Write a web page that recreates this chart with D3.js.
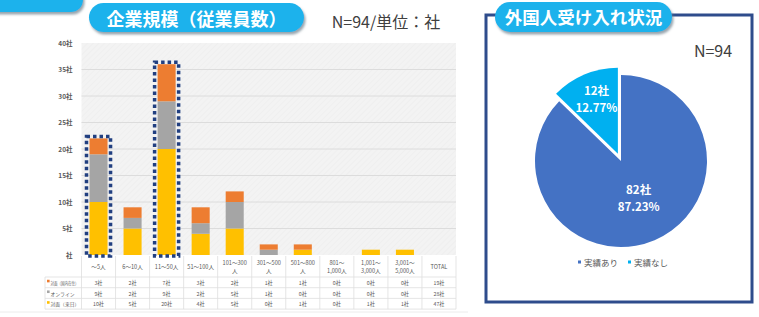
<!DOCTYPE html>
<meta charset='utf-8'>
<style>
body {
    margin: 0;
    background: #fff;
}
svg text {
    font-family: 'Noto Sans CJK JP', 'Noto Sans', sans-serif;
}
</style>
<body>
<div class='chart'></div>
<script src='https://d3js.org/d3.v7.min.js'></script>
<script>
// 企業規模（従業員数）
var categories = ['～5人', '6～10人', '11～50人', '51～100人', '101～300\n人', '301～500\n人',
    '501～800\n人', '801～\n1,000人', '1,001～\n3,000人', '3,001～\n5,000人'];
var seriesNames = ['対面（来日）', 'オンライン', '対面（国内在住）'];
var faceVisit = [10, 5, 20, 4, 5, 0, 1, 0, 1, 1];
var online = [9, 2, 9, 2, 5, 1, 0, 0, 0, 0];
var faceResident = [3, 2, 7, 3, 2, 1, 1, 0, 0, 0];
var yTicks = [0, 5, 10, 15, 20, 25, 30, 35, 40];
var highlighted = ['～5人', '11～50人'];

// 外国人受け入れ状況
var pieLabels = ['実績あり', '実績なし'];
var pieValues = [82, 12];

var barColors = ['#ffc000', '#a5a5a5', '#ed7d31'];
var pieColors = ['#4472c4', '#00b0f0'];
var cyan = '#1cb2ec';

var width = 759, height = 317;

var svg = d3.select('.chart').append('svg')
    .attr('width', width)
    .attr('height', height);

var defs = svg.append('defs');

defs.append('filter')
    .attr('id', 'shadow')
    .attr('x', '-10%').attr('y', '-20%')
    .attr('width', '120%').attr('height', '160%')
    .append('feDropShadow')
    .attr('dx', 1.5).attr('dy', 2.5)
    .attr('stdDeviation', 1.2)
    .attr('flood-color', '#6d7f8c')
    .attr('flood-opacity', 0.7);

var hatch = defs.append('pattern')
    .attr('id', 'hatch')
    .attr('patternUnits', 'userSpaceOnUse')
    .attr('width', 4).attr('height', 4)
    .attr('patternTransform', 'rotate(45)');
hatch.append('rect').attr('width', 4).attr('height', 4).attr('fill', '#f3f3f3');
hatch.append('line').attr('x1', 0).attr('y1', 0).attr('x2', 0).attr('y2', 4)
    .attr('stroke', '#ececec').attr('stroke-width', 1);

// ---------- 左：積み上げ棒グラフ ----------
var allCols = categories.concat(['TOTAL']);
var plotLeft = 81.5, plotRight = 456, plotTop = 43, plotBottom = 255;

var x = d3.scaleBand()
    .domain(allCols)
    .range([plotLeft, plotRight])
    .paddingInner(0.47)
    .paddingOuter(0.235);

var y = d3.scaleLinear()
    .domain([0, 40])
    .range([plotBottom, plotTop]);

// 左上の切れたピル
svg.append('rect')
    .attr('x', -20).attr('y', -20)
    .attr('width', 103).attr('height', 32)
    .attr('rx', 12)
    .attr('fill', cyan)
    .attr('filter', 'url(#shadow)');

// タイトル
svg.append('rect')
    .attr('x', 89).attr('y', 3)
    .attr('width', 215).attr('height', 29)
    .attr('rx', 14.5)
    .attr('fill', cyan)
    .attr('filter', 'url(#shadow)');
svg.append('text')
    .attr('x', 196.5).attr('y', 18)
    .attr('text-anchor', 'middle')
    .attr('dominant-baseline', 'central')
    .attr('fill', '#fff')
    .attr('font-size', 18)
    .attr('font-weight', 'bold')
    .text('企業規模（従業員数）');

svg.append('text')
    .attr('x', 386).attr('y', 21)
    .attr('text-anchor', 'middle')
    .attr('dominant-baseline', 'central')
    .attr('fill', '#404040')
    .attr('font-size', 16)
    .text('N=94/単位：社');

// プロット背景
svg.append('rect')
    .attr('x', plotLeft).attr('y', plotTop)
    .attr('width', plotRight - plotLeft).attr('height', plotBottom - plotTop)
    .attr('fill', 'url(#hatch)');

svg.append('g')
    .selectAll('line')
    .data(yTicks.slice(1, -1))
    .join('line')
    .attr('x1', plotLeft).attr('x2', plotRight)
    .attr('y1', d => y(d)).attr('y2', d => y(d))
    .attr('stroke', '#dcdcdc')
    .attr('stroke-width', 1);

// y軸ラベル
var yAxis = svg.append('g')
    .attr('transform', 'translate(' + (plotLeft - 6) + ',0)')
    .call(d3.axisLeft(y).tickValues(yTicks).tickSize(0)
        .tickFormat(d => d === 0 ? '社' : d + '社'));
yAxis.select('.domain').remove();
yAxis.selectAll('text')
    .attr('fill', '#595959')
    .attr('font-size', 6.5)
    .attr('font-weight', 'bold')
    .attr('font-family', "'Noto Sans CJK JP', sans-serif");

// 積み上げ
var rows = categories.map(function(c, i) {
    return { cat: c, '対面（来日）': faceVisit[i], 'オンライン': online[i], '対面（国内在住）': faceResident[i] };
});
var stack = d3.stack().keys(seriesNames)(rows);

svg.append('g')
    .selectAll('g')
    .data(stack)
    .join('g')
    .attr('fill', (d, i) => barColors[i])
    .selectAll('rect')
    .data(d => d)
    .join('rect')
    .attr('x', d => x(d.data.cat))
    .attr('width', x.bandwidth())
    .attr('y', d => y(d[1]))
    .attr('height', d => y(d[0]) - y(d[1]));

// 点線の強調枠
svg.append('g')
    .selectAll('rect')
    .data(rows.filter(d => highlighted.includes(d.cat)))
    .join('rect')
    .attr('x', d => x(d.cat) - 3)
    .attr('width', x.bandwidth() + 6)
    .attr('y', d => y(d['対面（来日）'] + d['オンライン'] + d['対面（国内在住）']) - 2)
    .attr('height', d => plotBottom + 1 - y(d['対面（来日）'] + d['オンライン'] + d['対面（国内在住）']) + 2)
    .attr('fill', 'none')
    .attr('stroke', '#213f80')
    .attr('stroke-width', 3.5)
    .attr('stroke-dasharray', '3.5 3');

// データテーブル
var tableLeft = 45, headTop = 256, headBottom = 277, rowH = 10.7;
var tableRows = [
    { name: seriesNames[2], color: barColors[2], values: faceResident },
    { name: seriesNames[1], color: barColors[1], values: online },
    { name: seriesNames[0], color: barColors[0], values: faceVisit }
];
var tableBottom = headBottom + rowH * tableRows.length;
var table = svg.append('g');
var lineColor = '#dedede';
var step = x.step();

allCols.forEach(function(c, i) {
    var cx = x(c) + x.bandwidth() / 2;
    table.append('line')
        .attr('x1', cx - step / 2).attr('x2', cx - step / 2)
        .attr('y1', headTop).attr('y2', tableBottom)
        .attr('stroke', lineColor).attr('stroke-width', 0.8);
    var lines = c.split('\n');
    lines.forEach(function(l, k) {
        table.append('text')
            .attr('x', cx)
            .attr('y', (headTop + headBottom) / 2 + (k - (lines.length - 1) / 2) * 8)
            .attr('text-anchor', 'middle')
            .attr('dominant-baseline', 'central')
            .attr('fill', '#595959')
            .attr('font-size', 5.6)
            .text(l);
    });
});
table.append('line')
    .attr('x1', plotRight).attr('x2', plotRight)
    .attr('y1', headTop).attr('y2', tableBottom)
    .attr('stroke', lineColor).attr('stroke-width', 0.8);
table.append('line')
    .attr('x1', tableLeft).attr('x2', tableLeft)
    .attr('y1', headBottom).attr('y2', tableBottom)
    .attr('stroke', lineColor).attr('stroke-width', 0.8);

d3.range(tableRows.length + 1).forEach(function(k) {
    table.append('line')
        .attr('x1', tableLeft).attr('x2', plotRight)
        .attr('y1', headBottom + k * rowH).attr('y2', headBottom + k * rowH)
        .attr('stroke', lineColor).attr('stroke-width', 0.8);
});

tableRows.forEach(function(r, k) {
    var cy = headBottom + rowH * (k + 0.5);
    table.append('rect')
        .attr('x', tableLeft + 2).attr('y', cy - 2.6)
        .attr('width', 2.6).attr('height', 2.6)
        .attr('fill', r.color);
    var label = table.append('text')
        .attr('x', tableLeft + 5.5).attr('y', cy)
        .attr('dominant-baseline', 'central')
        .attr('fill', '#595959')
        .attr('font-size', 4.8)
        .text(r.name);
    if (r.name.length > 6) {
        label.attr('textLength', 28).attr('lengthAdjust', 'spacingAndGlyphs');
    }
    var vals = r.values.concat([d3.sum(r.values)]);
    vals.forEach(function(v, i) {
        table.append('text')
            .attr('x', x(allCols[i]) + x.bandwidth() / 2).attr('y', cy)
            .attr('text-anchor', 'middle')
            .attr('dominant-baseline', 'central')
            .attr('fill', '#595959')
            .attr('font-size', 5.2)
            .text(v + '社');
    });
});

svg.append('line')
    .attr('x1', 0).attr('x2', 468)
    .attr('y1', 312).attr('y2', 312)
    .attr('stroke', '#ececec');

// ---------- 右：円グラフ ----------
svg.append('rect')
    .attr('x', 486).attr('y', 15)
    .attr('width', 266).attr('height', 287)
    .attr('fill', '#fff')
    .attr('stroke', '#2e4c8c')
    .attr('stroke-width', 3);

svg.append('rect')
    .attr('x', 495).attr('y', 2)
    .attr('width', 177).attr('height', 30)
    .attr('rx', 15)
    .attr('fill', cyan)
    .attr('filter', 'url(#shadow)');
svg.append('text')
    .attr('x', 583.5).attr('y', 16.5)
    .attr('text-anchor', 'middle')
    .attr('dominant-baseline', 'central')
    .attr('fill', '#fff')
    .attr('font-size', 17.5)
    .attr('font-weight', 'bold')
    .text('外国人受け入れ状況');

svg.append('text')
    .attr('x', 713).attr('y', 50)
    .attr('text-anchor', 'middle')
    .attr('dominant-baseline', 'central')
    .attr('fill', '#404040')
    .attr('font-size', 16)
    .text('N=94');

var total = d3.sum(pieValues);
var pcx = 621, pcy = 161, radius = 86, explode = 8;

var pie = d3.pie().sort(null)(pieValues);
var arc = d3.arc().innerRadius(0).outerRadius(radius);

var slices = svg.append('g')
    .attr('transform', 'translate(' + pcx + ',' + pcy + ')')
    .selectAll('g')
    .data(pie)
    .join('g')
    .attr('transform', function(d, i) {
        if (i === 0) return null;
        var a = (d.startAngle + d.endAngle) / 2;
        return 'translate(' + (Math.sin(a) * explode) + ',' + (-Math.cos(a) * explode) + ')';
    });

slices.append('path')
    .attr('d', arc)
    .attr('fill', (d, i) => pieColors[i]);

slices.each(function(d, i) {
    var a = (d.startAngle + d.endAngle) / 2;
    var r = i === 0 ? 40 : 60;
    var lx = Math.sin(a) * r + (i === 0 ? 2 : 2), ly = -Math.cos(a) * r;
    var g = d3.select(this);
    g.append('text')
        .attr('x', lx).attr('y', ly - 8.5)
        .attr('text-anchor', 'middle')
        .attr('dominant-baseline', 'central')
        .attr('fill', '#fff')
        .attr('font-size', 11.5)
        .attr('font-weight', 'bold')
        .text(d.value + '社');
    g.append('text')
        .attr('x', lx).attr('y', ly + 8.5)
        .attr('text-anchor', 'middle')
        .attr('dominant-baseline', 'central')
        .attr('fill', '#fff')
        .attr('font-size', 11.5)
        .attr('font-weight', 'bold')
        .text((d.value / total * 100).toFixed(2) + '%');
});

// 凡例
var legend = svg.append('g')
    .attr('transform', 'translate(578,262)');
var legendX = [0, 50];
pieLabels.forEach(function(l, i) {
    legend.append('rect')
        .attr('x', legendX[i]).attr('y', -1.5)
        .attr('width', 3).attr('height', 3)
        .attr('fill', pieColors[i]);
    legend.append('text')
        .attr('x', legendX[i] + 6).attr('y', 0)
        .attr('dominant-baseline', 'central')
        .attr('fill', '#595959')
        .attr('font-size', 8.5)
        .text(l);
});
</script>
</body>
